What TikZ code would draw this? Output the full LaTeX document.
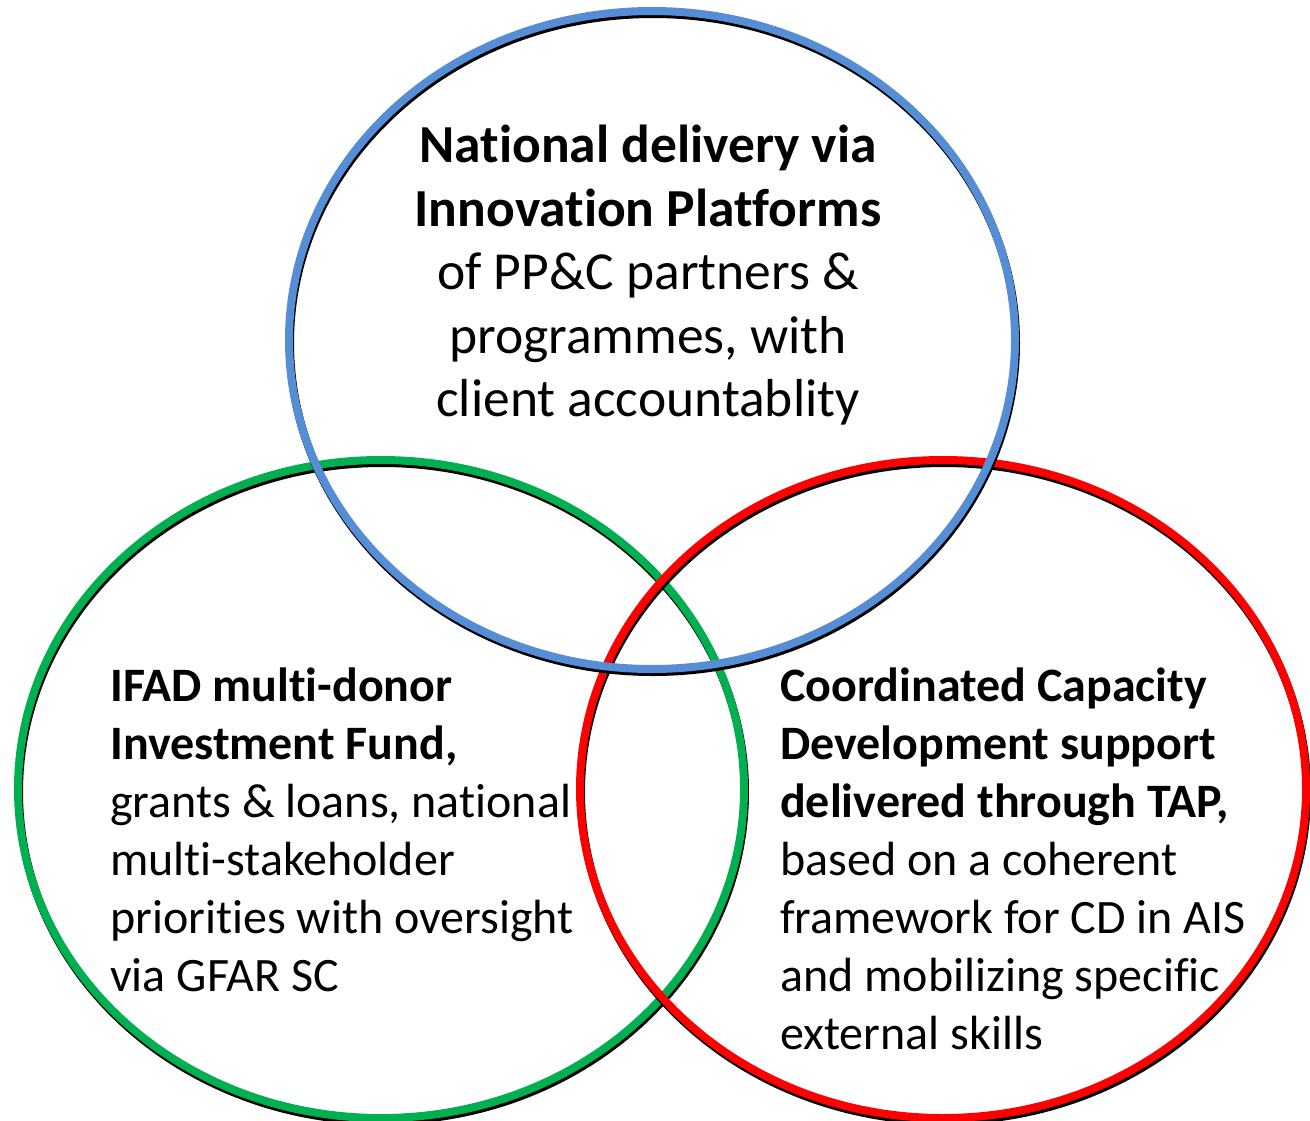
\documentclass[tikz,border=0pt]{standalone}
\usepackage{fontspec}
\setmainfont{Carlito}[Ligatures=NoCommon]
\usepackage{tikz}
\usetikzlibrary{positioning}
\usetikzlibrary{shapes.geometric}
\definecolor{ringBlue}{RGB}{85,142,213}
\definecolor{ringGreen}{RGB}{0,176,80}
\definecolor{ringRed}{RGB}{255,0,0}
\tikzstyle{ring} = [ellipse, minimum width=726pt, minimum height=658pt, inner sep=0pt, line width=8pt,
	preaction={draw=black, transform canvas={xshift=1pt, yshift=-3pt}}]
\tikzstyle{bigtext} = [inner sep=0pt, align=center, font=\fontsize{53.5}{63.5}\selectfont]
\tikzstyle{sidetext} = [inner sep=0pt, align=left, font=\fontsize{48}{58}\selectfont]

\begin{document}
\begin{tikzpicture}[x=1pt, y=-1pt]
	\useasboundingbox (0,0) rectangle (1310,1120);
	
	%Coordinates
	\coordinate (topC) at (652,340);
	\coordinate (leftC) at (381,789);
	\coordinate (rightC) at (943,789);
	
	%Rings
	\node [ring, draw=ringGreen] (leftRing) at (leftC) {};
	\node [ring, draw=ringRed] (rightRing) at (rightC) {};
	\node [ring, draw=ringBlue] (topRing) at (topC) {};
	
	%Nodes
	\node [bigtext, anchor=north] (topText) at (648,125) {\textbf{National delivery via}\\\textbf{Innovation Platforms}\\of PP\&C partners \&\\programmes, with\\client accountablity};
	\node [sidetext, anchor=north west] (leftText) at (110,668) {\textbf{IFAD multi-donor}\\\textbf{Investment Fund,}\\grants \& loans, national\\multi-stakeholder\\priorities with oversight\\via GFAR SC};
	\node [sidetext, anchor=north west] (rightText) at (780,668) {\textbf{Coordinated Capacity}\\\textbf{Development support}\\\textbf{delivered through TAP,}\\based on a coherent\\framework for CD in AIS\\and mobilizing specific\\external skills};
\end{tikzpicture}
\end{document}
